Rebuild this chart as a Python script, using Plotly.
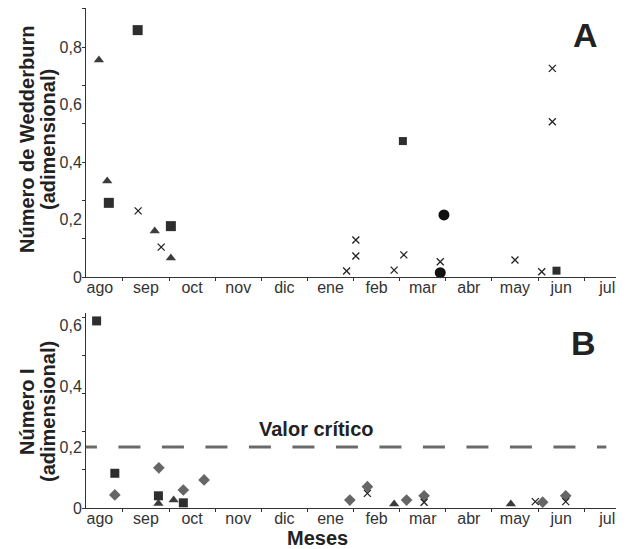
import plotly.graph_objects as go

# ---------------- data ----------------
month_labels = ["ago", "sep", "oct", "nov", "dic", "ene", "feb", "mar", "abr", "may", "jun", "jul"]
month_pos = list(range(12))

# Panel A (Número de Wedderburn)
sqA_x = [0.82, 0.195, 1.54, 6.57, 9.9]
sqA_y = [0.859, 0.258, 0.177, 0.473, 0.022]
triA_x = [-0.02, 0.16, 1.19, 1.54]
triA_y = [0.755, 0.334, 0.16, 0.066]
xA_x = [0.83, 1.33, 5.35, 5.55, 5.55, 6.38, 6.59, 7.38, 9.0, 9.58, 9.81, 9.81]
xA_y = [0.23, 0.104, 0.021, 0.073, 0.129, 0.024, 0.077, 0.053, 0.059, 0.018, 0.726, 0.54]
cirA_x = [7.38, 7.46]
cirA_y = [0.015, 0.216]

# Panel B (Número I)
sqB_x = [-0.07, 0.325, 1.27, 1.81]
sqB_y = [0.614, 0.114, 0.040, 0.017]
diaB_x = [0.325, 1.28, 1.81, 2.26, 5.42, 5.8, 6.65, 7.03, 9.6, 10.1]
diaB_y = [0.043, 0.132, 0.059, 0.092, 0.026, 0.07, 0.026, 0.04, 0.019, 0.04]
triB_x = [1.27, 1.6, 6.38, 8.91]
triB_y = [0.015, 0.026, 0.013, 0.013]
xB_x = [5.8, 7.03, 9.44, 10.1]
xB_y = [0.048, 0.019, 0.021, 0.021]

critical_value = 0.2
yA_ticks = [0, 0.2, 0.4, 0.6, 0.8]
yA_text = ["0", "0,2", "0,4", "0,6", "0,8"]
yB_ticks = [0, 0.2, 0.4, 0.6]
yB_text = ["0", "0,2", "0,4", "0,6"]

# ---------------- style ----------------
FONT = "Liberation Sans, Arial, sans-serif"
DARK = "#2e2e2e"
TRI = "#3c3c3c"
DIA = "#666666"
sqA_sizes = [10, 10, 10, 8, 8]

# page has an 8px body margin: figure is drawn 8px smaller and offset
OFF = 8
W, H = 627 - OFF, 549 - OFF
L, R, T, B = 86 - OFF, 11, 0, 41
pw, ph = W - L - R, H - T - B

fig = go.Figure()

def sc(x, y, xa, ya, symbol, color, size, lw=0):
    m = dict(symbol=symbol, color=color, size=size, opacity=1)
    if lw:
        m["line"] = dict(color=color, width=lw)
    else:
        m["line"] = dict(width=0)
    fig.add_trace(go.Scatter(x=x, y=y, mode="markers", marker=m, xaxis=xa, yaxis=ya,
                             cliponaxis=False, showlegend=False, hoverinfo="skip"))

# Panel A
sc(triA_x, triA_y, "x", "y", "triangle-up", TRI, 9)
sc(xA_x, xA_y, "x", "y", "x-thin", "#222222", 7, 1.3)
sc(sqA_x, sqA_y, "x", "y", "square", DARK, sqA_sizes)
sc(cirA_x, cirA_y, "x", "y", "circle", "#111111", 11)

# Panel B critical line
fig.add_trace(go.Scatter(x=[-0.54, 10.98], y=[critical_value, critical_value], mode="lines",
                         line=dict(color="#6a6a6a", width=3, dash="22px,21.5px"),
                         xaxis="x2", yaxis="y2", showlegend=False, hoverinfo="skip"))
sc(triB_x, triB_y, "x2", "y2", "triangle-up", TRI, 9)
sc(diaB_x, diaB_y, "x2", "y2", "diamond", DIA, 9)
sc(xB_x, xB_y, "x2", "y2", "x-thin", "#222222", 7, 1.3)
sc(sqB_x, sqB_y, "x2", "y2", "square", DARK, 9)

xcommon = dict(range=[-0.30, 11.19], tickmode="array", tickvals=month_pos, ticktext=month_labels,
               ticks="", showline=True, linecolor="#333333", linewidth=1, showgrid=False,
               zeroline=False, automargin=False, ticklabelstandoff=-4,
               tickfont=dict(family=FONT, size=16, color="#333333"),
               minor=dict(tickmode="array", tickvals=[p + 0.5 for p in month_pos[:-1]],
                          ticks="outside", ticklen=3, tickcolor="#333333", showgrid=False))

# panel A: ref pixel rows 277 (0) .. 8 (top); panel B: 508 (0) .. 313 (top)
a_bot = (H - B - (277 - OFF)) / ph
b_top = (H - B - (313 - OFF)) / ph

fig.update_layout(
    width=W, height=H,
    margin=dict(l=L, r=R, t=T, b=B, autoexpand=False),
    paper_bgcolor="white", plot_bgcolor="white",
    xaxis=dict(anchor="y", domain=[0, 1], **xcommon),
    xaxis2=dict(anchor="y2", domain=[0, 1], **xcommon),
    yaxis=dict(domain=[a_bot, 1], range=[0, 0.936], anchor="x", tickmode="array",
               tickvals=yA_ticks, ticktext=yA_text, ticks="", showline=True,
               linecolor="#333333", linewidth=1, showgrid=False, zeroline=False, automargin=False,
               tickfont=dict(family=FONT, size=16, color="#333333"),
               minor=dict(tick0=0, dtick=0.8 / 6, ticks="outside", ticklen=3,
                          tickcolor="#333333", showgrid=False)),
    yaxis2=dict(domain=[0, b_top], range=[0, 0.64], anchor="x2", tickmode="array",
                tickvals=yB_ticks, ticktext=yB_text, ticks="", showline=True,
                linecolor="#333333", linewidth=1, showgrid=False, zeroline=False, automargin=False,
                tickfont=dict(family=FONT, size=16, color="#333333"),
                minor=dict(tick0=0, dtick=0.125, ticks="outside", ticklen=3,
                           tickcolor="#333333", showgrid=False)),
)

def ann(text, x, y, size, angle=0):
    fig.add_annotation(text=text, x=(x - OFF - L) / pw, y=(H - B - (y - OFF)) / ph,
                       xref="paper", yref="paper", showarrow=False,
                       textangle=angle, xanchor="center", yanchor="middle",
                       font=dict(family=FONT, size=size, color="#222222"))

ann("<b>Número de Wedderburn</b>", 27, 140, 20, -90)
ann("<b>(adimensional)</b>", 48, 140, 20, -90)
ann("<b>Número I</b>", 27, 412, 20, -90)
ann("<b>(adimensional)</b>", 48, 412, 20, -90)
ann("<b>A</b>", 585, 35, 34)
ann("<b>B</b>", 583, 343, 34)
ann("<b>Valor crítico</b>", 316, 429, 20)
ann("<b>Meses</b>", 317, 538, 20)

fig.write_html("out.html")
